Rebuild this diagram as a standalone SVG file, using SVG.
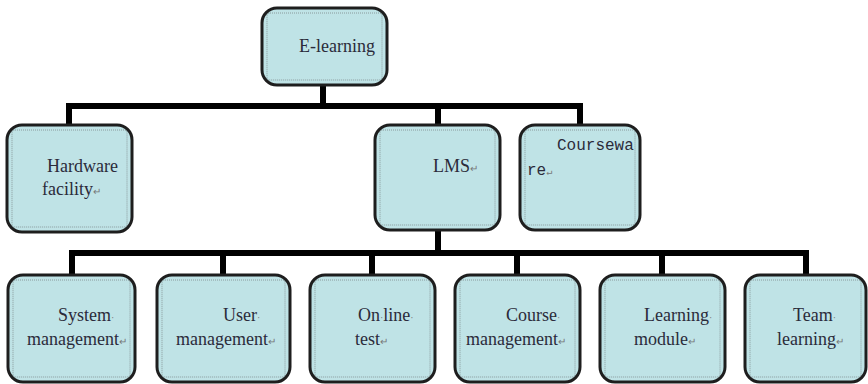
<svg xmlns="http://www.w3.org/2000/svg" width="868" height="384" viewBox="0 0 868 384">
  <style>
    .box { fill: #bfe3e6; stroke: #1e1e1e; stroke-width: 3; }
    .inner { fill: none; stroke: #8a9a9c; stroke-width: 1; stroke-dasharray: 1 1; }
    .t { font-family: "Liberation Serif", "Times New Roman", serif; font-size: 18px; fill: #2b2b3a; }
    .m { font-family: "Liberation Mono", "Courier New", monospace; font-size: 16px; fill: #2b2b3a; }
    .mk { font-size: 10px; fill: #777; }
    .conn { fill: none; stroke: #000; stroke-width: 6; stroke-linejoin: miter; }
  </style>
  <rect width="868" height="384" fill="#ffffff"/>
  <g id="connectors">
    <path class="conn" d="M323,85 V106"/>
    <path class="conn" d="M69,125 V106 H580 V125"/>
    <path class="conn" d="M438,106 V125"/>
    <path class="conn" d="M438,230 V253"/>
    <path class="conn" d="M72,275 V253 H806 V275"/>
    <path class="conn" d="M223,253 V275"/>
    <path class="conn" d="M372,253 V275"/>
    <path class="conn" d="M517,253 V275"/>
    <path class="conn" d="M662,253 V275"/>
  </g>
  <g id="n-elearning">
    <rect class="box" x="262" y="8" width="125" height="77" rx="15"/>
    <rect class="inner" x="267" y="13" width="115" height="67" rx="3"/>
    <text class="t" x="299" y="52">E-learning</text>
  </g>
  <g id="n-hardware">
    <rect class="box" x="7" y="125" width="125" height="107" rx="15"/>
    <rect class="inner" x="12" y="130" width="115" height="97" rx="3"/>
    <text class="t" x="47" y="172">Hardware</text>
    <text class="t" x="42" y="195">facility<tspan class="mk">↵</tspan></text>
  </g>
  <g id="n-lms">
    <rect class="box" x="375" y="125" width="125" height="105" rx="15"/>
    <rect class="inner" x="380" y="130" width="115" height="95" rx="3"/>
    <text class="t" x="433" y="172">LMS<tspan class="mk">↵</tspan></text>
  </g>
  <g id="n-courseware">
    <rect class="box" x="520" y="125" width="120" height="105" rx="15"/>
    <rect class="inner" x="525" y="130" width="110" height="95" rx="3"/>
    <text class="m" x="557" y="150">Coursewa</text>
    <text class="m" x="527" y="175">re<tspan class="mk">↵</tspan></text>
  </g>
  <g id="n-system">
    <rect class="box" x="8" y="275" width="127" height="107" rx="15"/>
    <rect class="inner" x="13" y="280" width="117" height="97" rx="3"/>
    <text class="t" x="58" y="321">System<tspan class="mk">·</tspan></text>
    <text class="t" x="27" y="345">management<tspan class="mk">↵</tspan></text>
  </g>
  <g id="n-user">
    <rect class="box" x="157" y="275" width="133" height="107" rx="15"/>
    <rect class="inner" x="162" y="280" width="123" height="97" rx="3"/>
    <text class="t" x="223" y="321">User<tspan class="mk">·</tspan></text>
    <text class="t" x="176" y="345">management<tspan class="mk">↵</tspan></text>
  </g>
  <g id="n-online">
    <rect class="box" x="310" y="275" width="125" height="107" rx="15"/>
    <rect class="inner" x="315" y="280" width="115" height="97" rx="3"/>
    <text class="t" x="358" y="321">On<tspan class="mk">·</tspan>line<tspan class="mk">·</tspan></text>
    <text class="t" x="355" y="345">test<tspan class="mk">↵</tspan></text>
  </g>
  <g id="n-course">
    <rect class="box" x="455" y="275" width="125" height="107" rx="15"/>
    <rect class="inner" x="460" y="280" width="115" height="97" rx="3"/>
    <text class="t" x="506" y="321">Course<tspan class="mk">·</tspan></text>
    <text class="t" x="466" y="345">management<tspan class="mk">↵</tspan></text>
  </g>
  <g id="n-learning">
    <rect class="box" x="600" y="275" width="125" height="107" rx="15"/>
    <rect class="inner" x="605" y="280" width="115" height="97" rx="3"/>
    <text class="t" x="644" y="321">Learning<tspan class="mk">·</tspan></text>
    <text class="t" x="634" y="345">module<tspan class="mk">↵</tspan></text>
  </g>
  <g id="n-team">
    <rect class="box" x="745" y="275" width="121" height="107" rx="15"/>
    <rect class="inner" x="750" y="280" width="111" height="97" rx="3"/>
    <text class="t" x="793" y="321">Team<tspan class="mk">·</tspan></text>
    <text class="t" x="777" y="345">learning<tspan class="mk">↵</tspan></text>
  </g>
</svg>
